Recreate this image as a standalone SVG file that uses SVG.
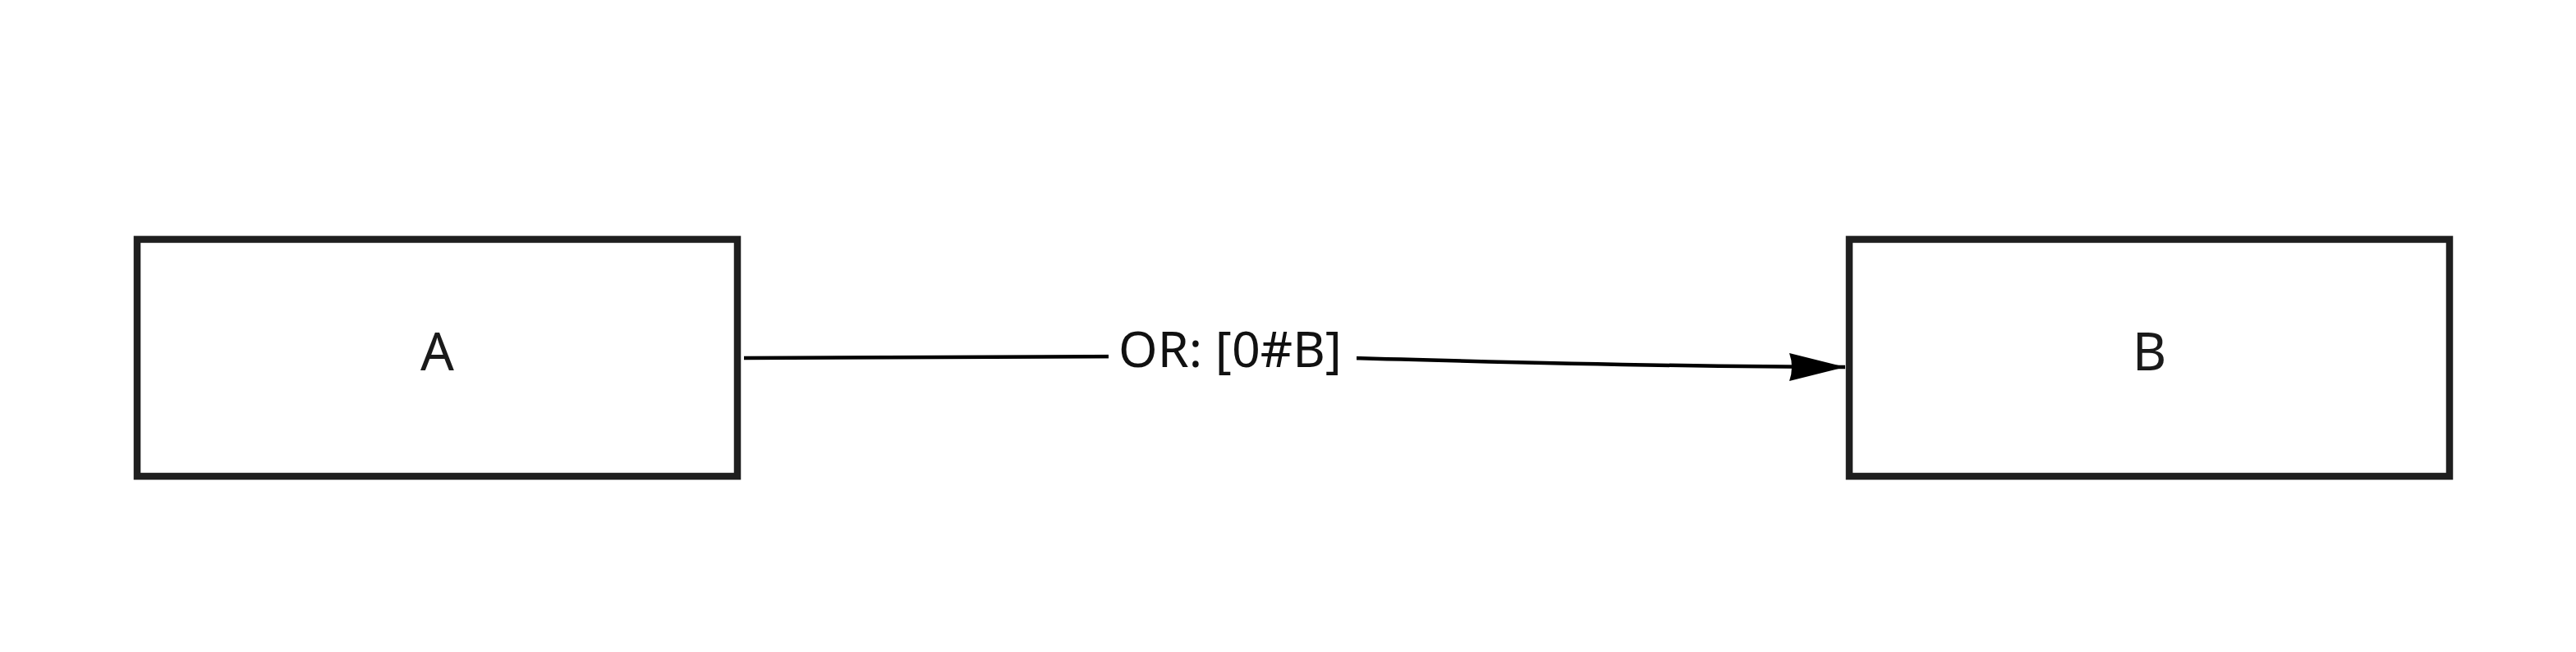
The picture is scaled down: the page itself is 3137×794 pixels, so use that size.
<svg xmlns="http://www.w3.org/2000/svg" width="3137" height="794" viewBox="0 0 3137 794">
<style>
.node rect{fill:#ffffff;stroke:#1f1f1f;stroke-width:8.5}
.node text{font-family:"Noto Sans","Open Sans",sans-serif;font-size:64px;fill:#1a1a1a;text-anchor:middle}
.edge{fill:none;stroke:#000000;stroke-width:4.5}
.lbl{font-family:"Noto Sans","Open Sans",sans-serif;font-size:61px;fill:#111111;text-anchor:middle}
</style>
<defs>
<marker id="arrow" markerUnits="userSpaceOnUse" markerWidth="72" markerHeight="40" refX="68" refY="18" orient="auto">
<path d="M0,1 L68,18 L0,35 Q6,18 0,1 Z" fill="#000000"/>
</marker>
</defs>
<rect width="3137" height="794" fill="#ffffff"/>
<g id="connectors">
<path class="edge" d="M906,436 C1200,434 1350,433 1498,433.5 C1650,434 1950,447 2247,447" marker-end="url(#arrow)"/>
<rect x="1350" y="398" width="302" height="70" fill="#ffffff"/>
<text class="lbl" x="1498" y="447">OR: [0#B]</text>
</g>
<g id="A" class="node">
<rect x="167" y="291.5" width="731" height="288.5"/>
<text x="532.5" y="451">A</text>
</g>
<g id="B" class="node">
<rect x="2252" y="291.5" width="731" height="288.5"/>
<text x="2617.5" y="451">B</text>
</g>
</svg>
